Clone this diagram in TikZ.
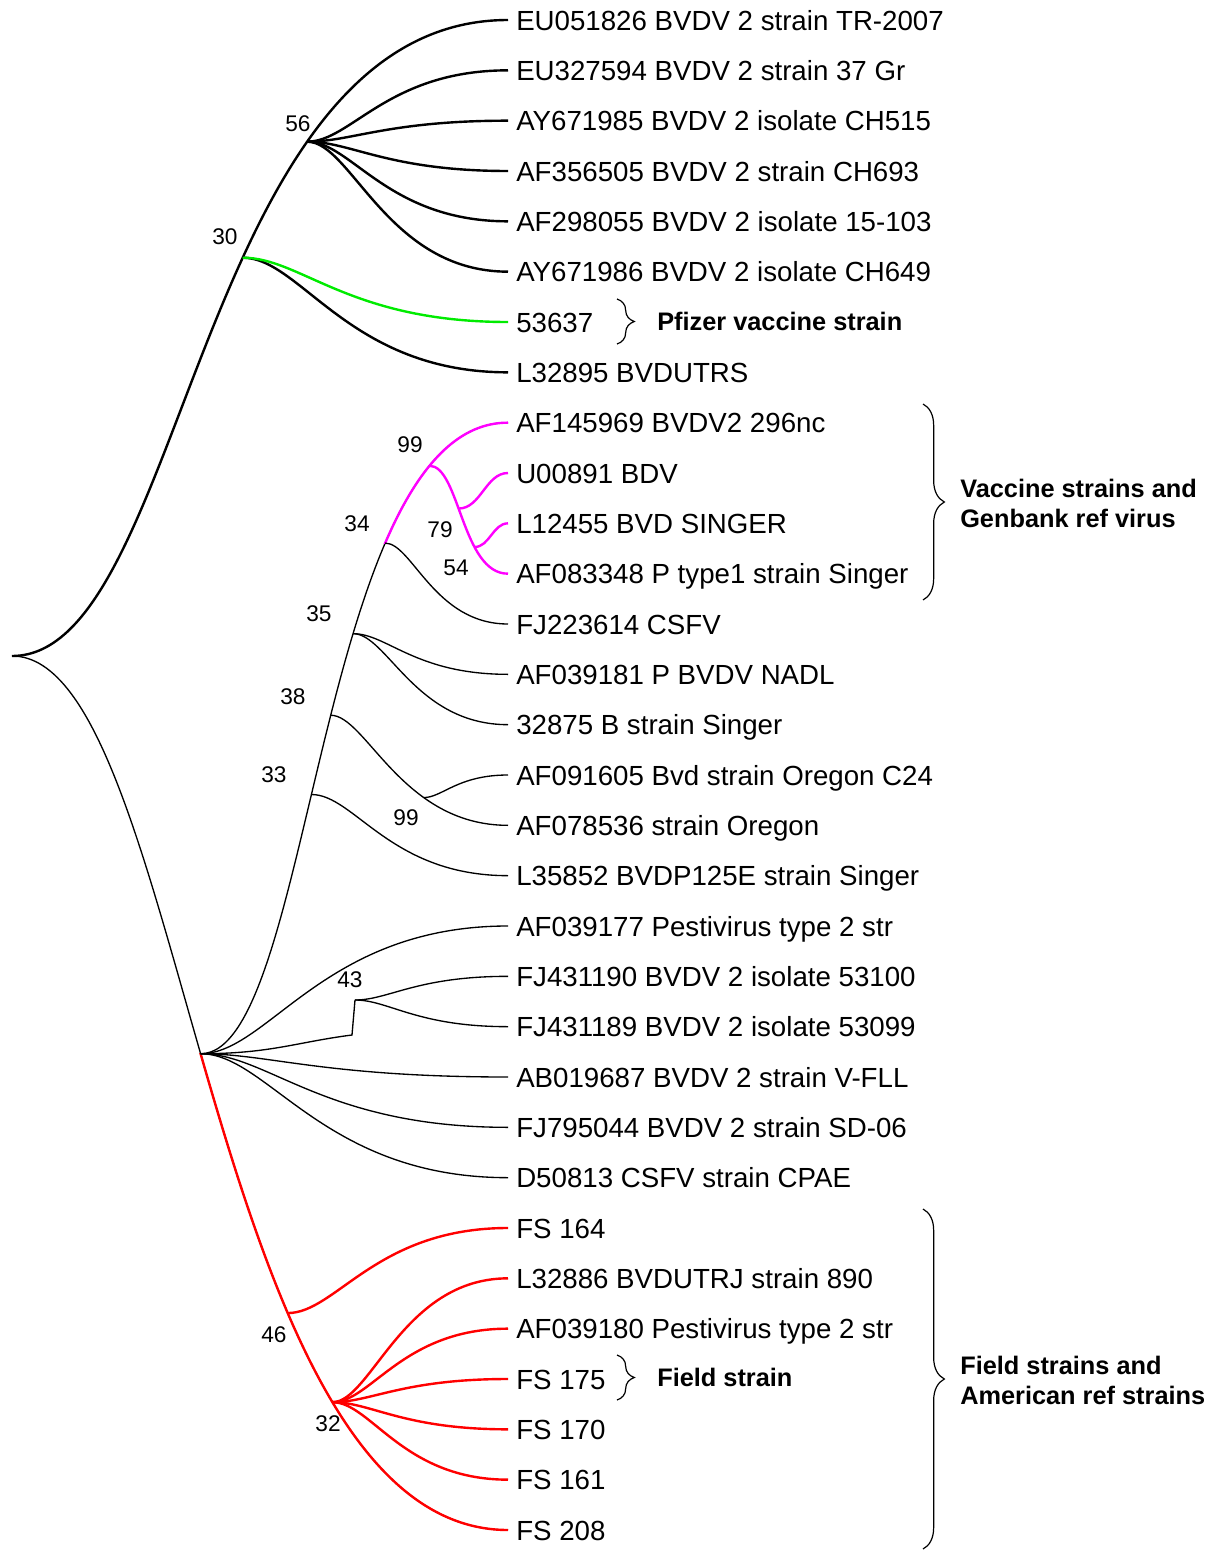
\documentclass[tikz,border=0pt]{standalone}
\usepackage{fontspec}
\setmainfont{Liberation Sans}
\usetikzlibrary{calc,decorations.pathreplacing}
\begin{document}
\begin{tikzpicture}[x=0.75pt,y=-0.75pt,
 thk/.style={line width=1.8pt},
 thn/.style={line width=1pt},
 sbranch/.style={to path={.. controls ($(\tikztostart)!0.22!(\tikztotarget |- \tikztostart)$) and ($(\tikztotarget)!0.6!(\tikztostart |- \tikztotarget)$) .. (\tikztotarget)}},
 symbranch/.style={to path={.. controls ($(\tikztostart)!0.45!(\tikztotarget |- \tikztostart)$) and ($(\tikztotarget)!0.45!(\tikztostart |- \tikztotarget)$) .. (\tikztotarget)}},
 leaf/.style={anchor=base west, inner sep=0pt, font=\fontsize{20.75}{24}\selectfont},
 boot/.style={inner sep=0pt, font=\fontsize{17}{20}\selectfont},
 grp/.style={inner sep=0pt, align=left, font=\fontsize{19}{22.5}\selectfont\bfseries},
 brc/.style={decorate, decoration={brace, amplitude=#1}, line width=0.9pt},
]
\definecolor{grn}{RGB}{0,235,0}
\definecolor{mag}{RGB}{255,0,255}
\definecolor{rd}{RGB}{255,0,0}
\useasboundingbox (0,0) rectangle (1211,1550);
\coordinate (rt) at (1211,0);
\coordinate (lf) at (0,0);

% leaves
\foreach \i/\t in {
 1/EU051826 BVDV 2 strain TR-2007,
 2/EU327594 BVDV 2 strain 37 Gr,
 3/AY671985 BVDV 2 isolate CH515,
 4/AF356505 BVDV 2 strain CH693,
 5/AF298055 BVDV 2 isolate 15-103,
 6/AY671986 BVDV 2 isolate CH649,
 7/53637,
 8/L32895 BVDUTRS,
 9/AF145969 BVDV2 296nc,
 10/U00891 BDV,
 11/L12455 BVD SINGER,
 12/AF083348 P type1 strain Singer,
 13/FJ223614 CSFV,
 14/AF039181 P BVDV NADL,
 15/32875 B strain Singer,
 16/AF091605 Bvd strain Oregon C24,
 17/AF078536 strain Oregon,
 18/L35852 BVDP125E strain Singer,
 19/AF039177 Pestivirus type 2 str,
 20/FJ431190 BVDV 2 isolate 53100,
 21/FJ431189 BVDV 2 isolate 53099,
 22/AB019687 BVDV 2 strain V-FLL,
 23/FJ795044 BVDV 2 strain SD-06,
 24/D50813 CSFV strain CPAE,
 25/FS 164,
 26/L32886 BVDUTRJ strain 890,
 27/AF039180 Pestivirus type 2 str,
 28/FS 175,
 29/FS 170,
 30/FS 161,
 31/FS 208}{
 \coordinate (e\i) at (508,{20+(\i-1)*50.333});
 \node[leaf] (L\i) at (516,{30+(\i-1)*50.333}) {\t};
}

\coordinate (root) at (12,656);

% top clade (thick black)
\draw[thk] (root) .. controls (186,656) and (197,20) .. (e1)
  coordinate[pos=0.585] (n30) coordinate[pos=0.72] (n56);
\foreach \j in {2,...,6} \draw[thk, sbranch] (n56) to (e\j);
\draw[thk, sbranch] (n30) to (e8);
\draw[thk, grn, sbranch] (n30) to (e7);

% bottom backbone: thin black to mid node, red after
\draw[thn] (root) .. controls (187,656) and (205,1530) .. (e31)
  coordinate[pos=0.47] (nmid) coordinate[pos=0.675] (n46) coordinate[pos=0.759] (n32);
\begin{scope}
 \clip (nmid -| lf) rectangle (1211,1560);
 \draw[thk, rd] (root) .. controls (187,656) and (205,1530) .. (e31);
\end{scope}
\draw[thk, rd, sbranch] (n46) to (e25);
\foreach \j in {26,...,30} \draw[thk, rd, sbranch] (n32) to (e\j);

% middle backbone
\draw[thn] (nmid) .. controls ($(nmid)+(113,0)$) and (317,422) .. (e9)
  coordinate[pos=0.44] (n33) coordinate[pos=0.524] (n38)
  coordinate[pos=0.612] (n35) coordinate[pos=0.72] (n34) coordinate[pos=0.84] (n99);
\begin{scope}
 \clip (-10,-10) rectangle (n34 -| rt);
 \draw[thk, mag] (nmid) .. controls ($(nmid)+(113,0)$) and (317,422) .. (e9);
\end{scope}

% magenta clade
\draw[thk, mag] (n99) .. controls ($(n99)+(30,0)$) and (462,574) .. (e12)
  coordinate[pos=0.43] (n79) coordinate[pos=0.675] (n54);
\draw[thk, mag, symbranch] (n79) to (e10);
\draw[thk, mag, symbranch] (n54) to (e11);

% thin black branches
\draw[thn, sbranch] (n34) to (e13);
\draw[thn, sbranch] (n35) to (e14);
\draw[thn, sbranch] (n35) to (e15);
\draw[thn] (n38) .. controls ($(n38)!0.2!(e17 |- n38)$) and ($(e17)!0.6!(n38 |- e17)$) .. (e17)
  coordinate[pos=0.672] (n99b);
\draw[thn, sbranch] (n99b) to (e16);
\draw[thn, sbranch] (n33) to (e18);

\draw[thn, sbranch] (nmid) to (e19);
\coordinate (n43b) at (352,1035);
\coordinate (n43) at (355,1000);
\draw[thn] (nmid) .. controls +(70,0) and +(-55,7) .. (n43b) -- (n43);
\draw[thn, sbranch] (n43) to (e20);
\draw[thn, sbranch] (n43) to (e21);
\foreach \j in {22,23,24} \draw[thn, sbranch] (nmid) to (e\j);

% bootstrap values
\node[boot] (b56) at (298,124) {56};
\node[boot] (b30) at (225,237) {30};
\node[boot] (b99a) at (410,445) {99};
\node[boot] (b34) at (357,524) {34};
\node[boot] (b79) at (440,530) {79};
\node[boot] (b54) at (456,568) {54};
\node[boot] (b35) at (319,614) {35};
\node[boot] (b38) at (293,697) {38};
\node[boot] (b33) at (274,775) {33};
\node[boot] (b99b) at (406,818) {99};
\node[boot] (b43) at (350,980) {43};
\node[boot] (b46) at (274,1335) {46};
\node[boot] (b32) at (328,1424) {32};

% braces and group labels
\draw[brc=13pt] (617,299) -- (617,344);
\node[grp, anchor=base west] (gP) at (657,330) {Pfizer vaccine strain};
\draw[brc=13pt] (617,1355) -- (617,1400);
\node[grp, anchor=base west] (gF) at (657,1386) {Field strain};
\draw[brc=16pt] (923,404) -- (923,600);
\node[grp, anchor=west] (gV) at (960,503) {Vaccine strains and\\Genbank ref virus};
\draw[brc=16pt] (923,1209) -- (923,1549);
\node[grp, anchor=west] (gA) at (960,1380) {Field strains and\\American ref strains};
\end{tikzpicture}
\end{document}
